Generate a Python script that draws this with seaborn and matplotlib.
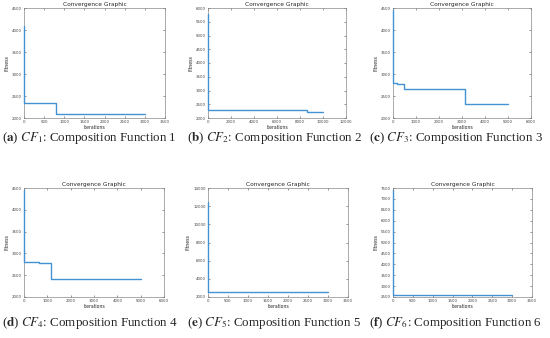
import numpy as np
import pandas as pd
import matplotlib
matplotlib.use("Agg")
import matplotlib.pyplot as plt
import seaborn as sns

# step points (iteration where the best fitness changes, new value)
iters_a = [0, 10, 790, 3000]
fit_a = [4100, 2330, 2090, 2090]
iters_b = [0, 20, 8600, 10000]
fit_b = [5800, 2300, 2220, 2220]
iters_c = [0, 15, 160, 480, 3150, 5000]
fit_c = [4450, 2800, 2780, 2660, 2310, 2310]
iters_d = [0, 15, 650, 1150, 5000]
fit_d = [4450, 2800, 2780, 2420, 2420]
iters_e = [0, 10, 3000]
fit_e = [12500, 2600, 2600]
iters_f = [0, 10, 3000]
fit_f = [7400, 2600, 2600]

xlims = [(0, 3500), (0, 12000), (0, 6000), (0, 6000), (0, 3500), (0, 3500)]
ylims = [(2000, 4500), (2000, 6000), (2000, 4500), (2000, 4500), (2000, 14000), (2500, 7500)]
xsteps = [500, 2000, 1000, 1000, 500, 500]
ysteps = [500, 500, 500, 500, 2000, 500]

captions = [r"($\mathbf{a}$) $CF_1$: Composition Function 1",
            r"($\mathbf{b}$) $CF_2$: Composition Function 2",
            r"($\mathbf{c}$) $CF_3$: Composition Function 3",
            r"($\mathbf{d}$) $CF_4$: Composition Function 4",
            r"($\mathbf{e}$) $CF_5$: Composition Function 5",
            r"($\mathbf{f}$) $CF_6$: Composition Function 6"]

data = [(iters_a, fit_a), (iters_b, fit_b), (iters_c, fit_c),
        (iters_d, fit_d), (iters_e, fit_e), (iters_f, fit_f)]

sns.set_style("ticks")
plt.rcParams['mathtext.fontset'] = 'stix'

fig = plt.figure(figsize=(5.5, 3.38), dpi=100)
W, H = 550.0, 338.0
# axes boxes in pixels: left, top, right, bottom
boxes = [(24, 8, 165, 118), (208, 8, 346, 118), (393, 8, 531, 118),
         (24, 188, 164, 297), (208, 188, 348, 297), (393, 188, 532, 297)]
cap_x = [2, 187, 369, 2, 187, 369]

for i, (xs, ys) in enumerate(data):
    l, t, r, b = boxes[i]
    ax = fig.add_axes([l / W, 1 - b / H, (r - l) / W, (b - t) / H])
    for s in ax.spines.values():
        s.set_linewidth(0.5)
        s.set_color('#888888')
        s.set_zorder(1)
    sns.lineplot(x=xs, y=ys, ax=ax, color='#4592d2', linewidth=1.0,
                 drawstyle='steps-post', estimator=None, clip_on=False, zorder=3)
    ax.set_xlim(*xlims[i])
    ax.set_ylim(*ylims[i])
    ax.set_xticks(np.arange(xlims[i][0], xlims[i][1] + 1, xsteps[i]))
    ax.set_yticks(np.arange(ylims[i][0], ylims[i][1] + 1, ysteps[i]))
    ax.tick_params(direction='in', length=1.5, width=0.4, labelsize=2.9,
                   top=True, right=True, pad=1.5, colors='#444444')
    ax.set_title("Convergence Graphic", fontsize=4.2, pad=1.5)
    ax.set_xlabel("Iterations", fontsize=3.3, labelpad=1)
    ax.set_ylabel("Fitness", fontsize=3.3, labelpad=2)
    cy = 138 if i < 3 else 323
    fig.text(cap_x[i] / W, 1 - cy / H, captions[i], ha='left', va='center',
             fontsize=9.4, family='Liberation Serif')

fig.savefig("out.png", dpi=100)
